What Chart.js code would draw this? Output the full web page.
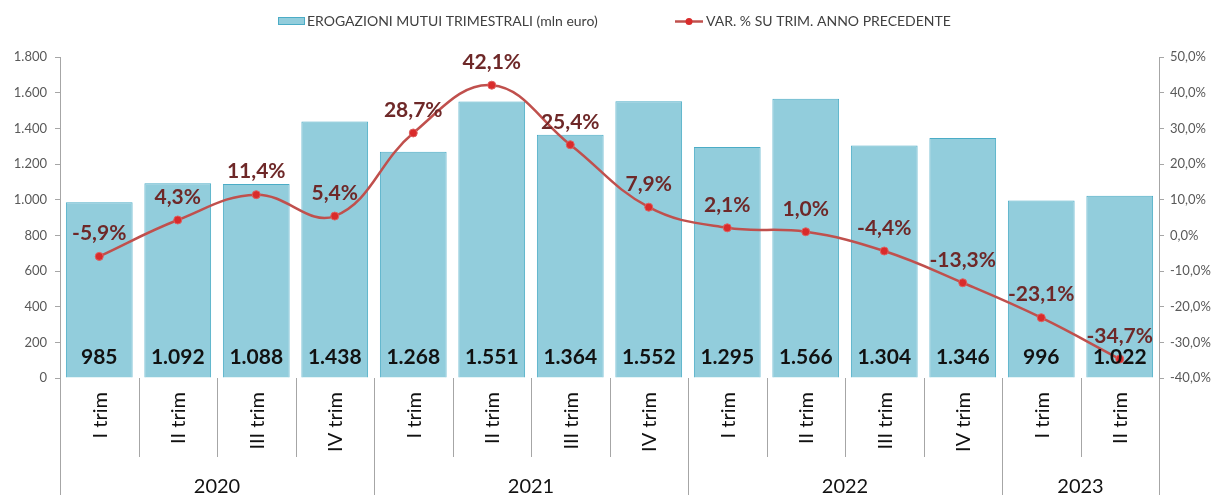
<!DOCTYPE html>
<html>
<head>
<meta charset="utf-8">
<script src="https://cdn.jsdelivr.net/npm/chart.js@4"></script>
<style>
  html, body { margin: 0; padding: 0; background: #fff; }
  #wrap { width: 1220px; height: 495px; position: relative; }
</style>
</head>
<body>
<div id="wrap"><canvas id="mutuiChart" width="1220" height="495"></canvas></div>
<script>
// Dati
const quarters = ["I trim", "II trim", "III trim", "IV trim", "I trim", "II trim", "III trim", "IV trim",
                  "I trim", "II trim", "III trim", "IV trim", "I trim", "II trim"];
const years = ["2020", "2021", "2022", "2023"];
const yearSpans = [4, 4, 4, 2];
const erogazioni = [985, 1092, 1088, 1438, 1268, 1551, 1364, 1552, 1295, 1566, 1304, 1346, 996, 1022];
const variazioni = [-5.9, 4.3, 11.4, 5.4, 28.7, 42.1, 25.4, 7.9, 2.1, 1.0, -4.4, -13.3, -23.1, -34.7];

const FONT = "Lato, 'Open Sans', sans-serif";

function formatIt(n) {
    return String(n).replace(/\B(?=(\d{3})+(?!\d))/g, ".");
}
function formatPct(v, dec) {
    return v.toFixed(dec).replace(".", ",") + "%";
}

// Plugin: etichette dati, asse categorie a due livelli, legenda
const decorPlugin = {
    id: "decor",
    afterDatasetsDraw(chart) {
        const ctx = chart.ctx;
        const x = chart.scales.x;
        const yL = chart.scales.y;
        const yR = chart.scales.y1;
        ctx.save();
        ctx.textAlign = "center";
        ctx.textBaseline = "middle";

        // valori delle barre
        ctx.font = "bold 21px " + FONT;
        ctx.fillStyle = "#111";
        erogazioni.forEach((v, i) => {
            ctx.fillText(formatIt(v), x.getPixelForValue(i), yL.bottom - 21);
        });

        // percentuali
        ctx.fillStyle = "#6E2828";
        variazioni.forEach((v, i) => {
            ctx.fillText(formatPct(v, 1), x.getPixelForValue(i), yR.getPixelForValue(v) - 23);
        });
        ctx.restore();
    },
    afterDraw(chart) {
        const ctx = chart.ctx;
        const x = chart.scales.x;
        const area = chart.chartArea;
        const n = quarters.length;
        const step = (area.right - area.left) / n;
        ctx.save();

        // separatori
        ctx.strokeStyle = "#A6A6A6";
        ctx.lineWidth = 1;
        const yearStarts = [0];
        yearSpans.reduce((acc, s) => { yearStarts.push(acc + s); return acc + s; }, 0);
        for (let i = 0; i <= n; i++) {
            const px = Math.round(area.left + i * step) + 0.5;
            const isYear = yearStarts.includes(i);
            ctx.beginPath();
            ctx.moveTo(px, area.bottom);
            ctx.lineTo(px, isYear ? 495 : area.bottom + 79);
            ctx.stroke();
        }

        // etichette trimestri ruotate
        ctx.fillStyle = "#111";
        ctx.font = "20px " + FONT;
        ctx.textAlign = "right";
        ctx.textBaseline = "middle";
        quarters.forEach((q, i) => {
            ctx.save();
            ctx.translate(x.getPixelForValue(i) + 1, area.bottom + 14);
            ctx.rotate(-Math.PI / 2);
            ctx.fillText(q, 0, 0);
            ctx.restore();
        });

        // anni
        ctx.textAlign = "center";
        ctx.font = "20px " + FONT;
        years.forEach((yr, k) => {
            const a = area.left + yearStarts[k] * step;
            const b = area.left + yearStarts[k + 1] * step;
            ctx.fillText(yr, (a + b) / 2, 487);
        });

        // legenda
        ctx.font = "14px " + FONT;
        ctx.textAlign = "left";
        ctx.fillStyle = "#92CDDC";
        ctx.fillRect(278, 17, 27, 8);
        ctx.strokeStyle = "#4BACC6";
        ctx.strokeRect(278.5, 17.5, 26, 7);
        ctx.fillStyle = "#404040";
        ctx.fillText("EROGAZIONI MUTUI TRIMESTRALI (mln euro)", 307, 21);

        ctx.strokeStyle = "#C0504D";
        ctx.lineWidth = 2.5;
        ctx.beginPath();
        ctx.moveTo(675, 21.5);
        ctx.lineTo(703, 21.5);
        ctx.stroke();
        ctx.fillStyle = "#D92B2B";
        ctx.beginPath();
        ctx.arc(689, 21.5, 3.5, 0, Math.PI * 2);
        ctx.fill();
        ctx.fillStyle = "#404040";
        ctx.fillText("VAR. % SU TRIM. ANNO PRECEDENTE", 706, 21);
        ctx.restore();
    }
};

const ctx = document.getElementById("mutuiChart").getContext("2d");
new Chart(ctx, {
    data: {
        labels: quarters,
        datasets: [
            {
                type: "line",
                label: "VAR. % SU TRIM. ANNO PRECEDENTE",
                data: variazioni,
                yAxisID: "y1",
                borderColor: "#C0504D",
                borderWidth: 2.5,
                tension: 0.4,
                pointRadius: 4,
                pointBackgroundColor: "#D92B2B",
                pointBorderColor: "#E06060",
                pointBorderWidth: 1,
                order: 0,
            },
            {
                type: "bar",
                label: "EROGAZIONI MUTUI TRIMESTRALI (mln euro)",
                data: erogazioni,
                yAxisID: "y",
                backgroundColor: "#92CDDC",
                borderColor: "#4BACC6",
                borderWidth: 1,
                barPercentage: 0.85,
                categoryPercentage: 1.0,
                order: 1,
            },
        ],
    },
    options: {
        responsive: false,
        animation: false,
        devicePixelRatio: 1,
        layout: { padding: { top: 57, left: 0, right: 0, bottom: 0 } },
        plugins: {
            legend: { display: false },
            tooltip: { enabled: false },
        },
        scales: {
            x: {
                grid: { display: false },
                border: { display: false },
                ticks: { display: false },
                afterFit(scale) { scale.height = 117; },
            },
            y: {
                position: "left",
                min: 0,
                max: 1800,
                ticks: {
                    stepSize: 200,
                    color: "#595959",
                    font: { family: FONT, size: 13 },
                    padding: 8,
                    callback: (v) => formatIt(v),
                },
                grid: { drawOnChartArea: false, tickLength: 5, color: "#A6A6A6" },
                border: { color: "#A6A6A6" },
                afterFit(scale) { scale.width = 60; },
            },
            y1: {
                position: "right",
                min: -40,
                max: 50,
                ticks: {
                    stepSize: 10,
                    color: "#595959",
                    font: { family: FONT, size: 13 },
                    padding: 6,
                    callback: (v) => formatPct(v, 1),
                },
                grid: { drawOnChartArea: false, tickLength: 5, color: "#A6A6A6" },
                border: { color: "#A6A6A6" },
                afterFit(scale) { scale.width = 61; },
            },
        },
    },
    plugins: [decorPlugin],
});
</script>
</body>
</html>
